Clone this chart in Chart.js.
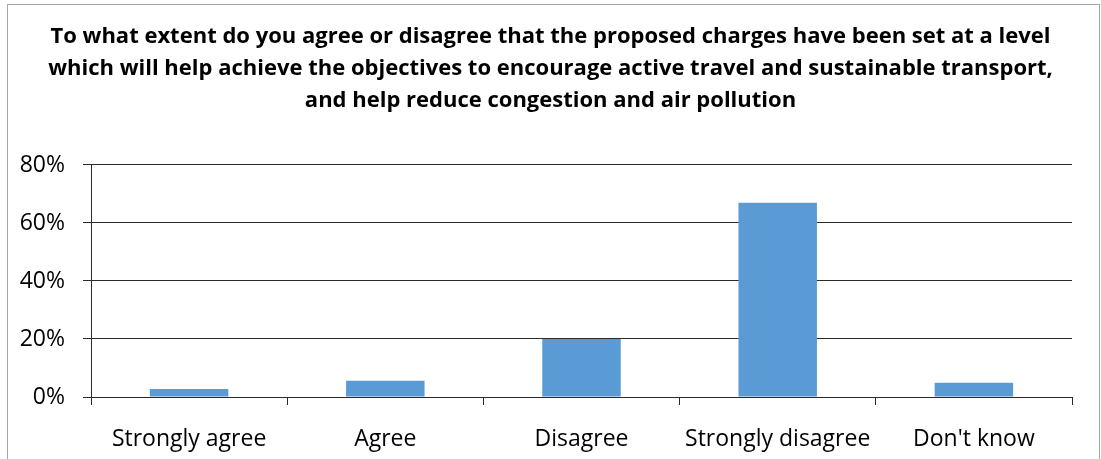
<!DOCTYPE html>
<html>
<head>
<meta charset="utf-8">
<script src="https://cdn.jsdelivr.net/npm/chart.js@4"></script>
<style>
  html, body { margin: 0; padding: 0; background: #fff; overflow: hidden; }
  #frame { position: absolute; left: 7px; top: 4px; width: 1093px; height: 470px; border: 1px solid #a6a6a6; box-sizing: border-box; }
  #wrap { position: absolute; left: 0; top: 0; width: 1101px; height: 459px; }
</style>
</head>
<body>
<div id="frame"></div>
<div id="wrap"><canvas id="bar-chart"></canvas></div>
<script>
const categories = ['Strongly agree', 'Agree', 'Disagree', 'Strongly disagree', "Don't know"];
const shares = [2.8, 5.6, 20, 67, 4.9];
const yTicks = [0, 20, 40, 60, 80];

const titleLines = [
    'To what extent do you agree or disagree that the proposed charges have been set at a level',
    'which will help achieve the objectives to encourage active travel and sustainable transport,',
    'and help reduce congestion and air pollution'
];

const fontName = '"Open Sans", Lato, sans-serif';
const axisColor = '#2b2b2b';

const ctx = document.getElementById('bar-chart').getContext('2d');
const chart = new Chart(ctx, {
    type: 'bar',
    data: {
        labels: categories,
        datasets: [{
            label: 'Share',
            data: shares,
            backgroundColor: '#5b9bd5',
            borderWidth: 0,
            barPercentage: 0.4,
            categoryPercentage: 1
        }]
    },
    options: {
        responsive: true,
        maintainAspectRatio: false,
        animation: false,
        layout: { padding: 0 },
        plugins: {
            legend: { display: false },
            tooltip: { enabled: false },
            title: {
                display: true,
                text: titleLines,
                color: '#000',
                font: { family: fontName, size: 22, weight: 'bold', lineHeight: 1.4545 },
                padding: { top: 21, bottom: 48 }
            }
        },
        scales: {
            x: {
                offset: true,
                grid: { display: true, offset: true, drawOnChartArea: false, color: axisColor, tickLength: 8 },
                border: { display: true, color: axisColor, width: 1 },
                ticks: { color: '#000', padding: 21, maxRotation: 0, font: { family: fontName, size: 23 } },
                afterFit: function (scale) { scale.height = 62; }
            },
            y: {
                min: 0,
                max: 80,
                afterBuildTicks: function (scale) { scale.ticks = yTicks.map(v => ({ value: v })); },
                grid: { color: axisColor, tickLength: 8 },
                border: { display: true, color: axisColor, width: 1 },
                ticks: {
                    color: '#000',
                    padding: 18,
                    font: { family: fontName, size: 23 },
                    callback: v => v + '%'
                },
                afterFit: function (scale) { scale.width = 91; }
            },
            // empty right-hand margin so the title stays centred on the whole picture
            spacer: {
                type: 'linear',
                position: 'right',
                min: 0,
                max: 80,
                grid: { display: false },
                border: { display: false },
                ticks: { display: false },
                afterFit: function (scale) { scale.width = 29; }
            }
        }
    }
});
</script>
</body>
</html>
